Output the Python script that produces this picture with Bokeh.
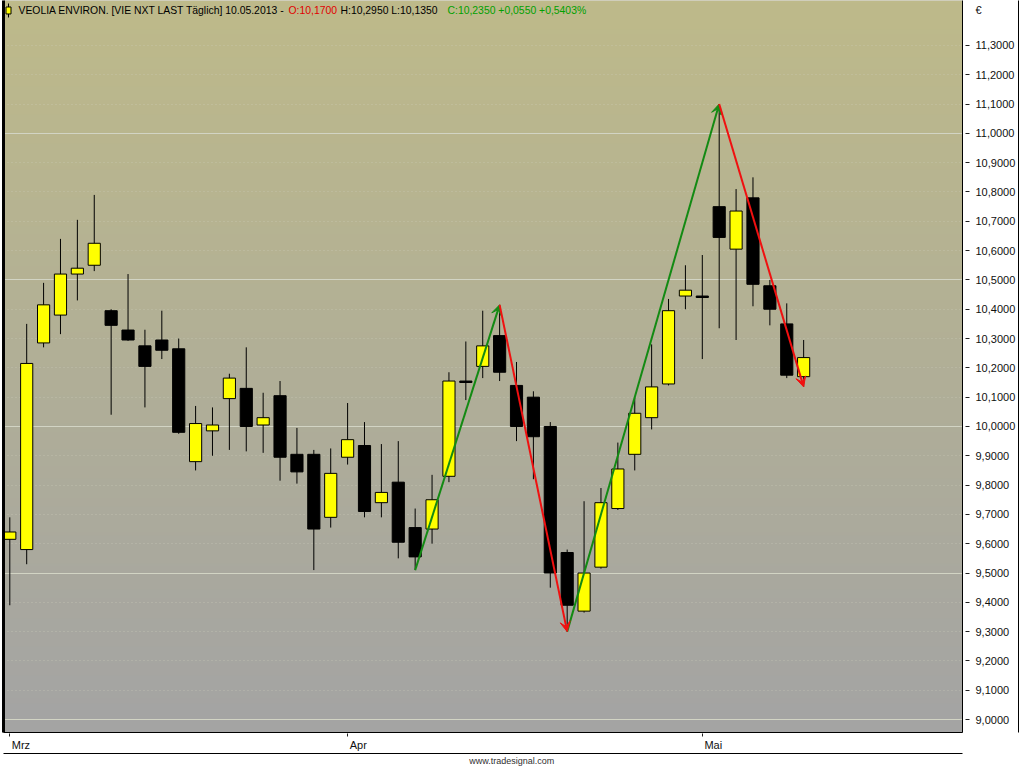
import numpy as np
from bokeh.plotting import figure
from bokeh.models import (ColumnDataSource, LinearAxis, FixedTicker, CustomJSTickFormatter,
                          Arrow, VeeHead, Label, Range1d, Grid)
from bokeh.embed import file_html
from bokeh.resources import INLINE

# ---------------- data ----------------
dates = ["01.03", "04.03", "05.03", "06.03", "07.03", "08.03", "11.03", "12.03", "13.03", "14.03",
         "15.03", "18.03", "19.03", "20.03", "21.03", "22.03", "25.03", "26.03", "27.03", "28.03",
         "02.04", "03.04", "04.04", "05.04", "08.04", "09.04", "10.04", "11.04", "12.04", "15.04",
         "16.04", "17.04", "18.04", "19.04", "22.04", "23.04", "24.04", "25.04", "26.04", "29.04",
         "30.04", "02.05", "03.05", "06.05", "07.05", "08.05", "09.05", "10.05"]
opens = [9.615, 9.58, 10.285, 10.38, 10.52, 10.55, 10.395, 10.329, 10.275, 10.295,
         10.265, 9.88, 9.985, 10.095, 10.13, 10.005, 10.105, 9.905, 9.905, 9.69,
         9.895, 9.935, 9.74, 9.81, 9.655, 9.65, 9.83, 10.155, 10.205, 10.31,
         10.14, 10.10, 10.00, 9.57, 9.37, 9.52, 9.72, 9.905, 10.03, 10.145,
         10.445, 10.445, 10.75, 10.605, 10.78, 10.48, 10.35, 10.17]
highs = [9.69, 10.35, 10.49, 10.64, 10.705, 10.79, 10.40, 10.52, 10.33, 10.395,
         10.30, 10.07, 10.065, 10.18, 10.27, 10.115, 10.155, 9.995, 9.92, 9.925,
         10.08, 10.015, 9.94, 9.95, 9.72, 9.835, 10.185, 10.29, 10.395, 10.415,
         10.22, 10.12, 10.015, 9.58, 9.745, 9.79, 9.945, 10.10, 10.28, 10.435,
         10.55, 10.585, 11.10, 10.81, 10.85, 10.50, 10.42, 10.295]
lows = [9.39, 9.53, 10.27, 10.315, 10.43, 10.53, 10.04, 10.292, 10.065, 10.23,
        9.975, 9.85, 9.90, 9.92, 9.915, 9.91, 9.815, 9.805, 9.51, 9.655,
        9.87, 9.69, 9.69, 9.55, 9.51, 9.60, 9.81, 10.09, 10.165, 10.155,
        9.95, 9.82, 9.45, 9.30, 9.365, 9.515, 9.715, 9.85, 9.99, 10.14,
        10.40, 10.23, 10.335, 10.295, 10.41, 10.345, 10.165, 10.135]
closes = [9.64, 10.215, 10.415, 10.52, 10.54, 10.625, 10.345, 10.295, 10.205, 10.26,
          9.98, 10.01, 10.005, 10.165, 10.00, 10.03, 9.895, 9.845, 9.65, 9.84,
          9.955, 9.71, 9.775, 9.605, 9.555, 9.75, 10.155, 10.15, 10.275, 10.185,
          10.00, 9.965, 9.50, 9.39, 9.50, 9.74, 9.855, 10.045, 10.135, 10.395,
          10.465, 10.44, 10.645, 10.735, 10.485, 10.40, 10.175, 10.235]

month_ticks = [0, 20, 41]
month_labels = ["Mrz", "Apr", "Mai"]

zz_idx = [24, 29, 33, 42, 47]
zz_price = [9.51, 10.415, 9.30, 11.10, 10.135]

y_ticks = [9.0, 9.1, 9.2, 9.3, 9.4, 9.5, 9.6, 9.7, 9.8, 9.9, 10.0, 10.1,
           10.2, 10.3, 10.4, 10.5, 10.6, 10.7, 10.8, 10.9, 11.0, 11.1, 11.2, 11.3]
y_major_grid = [9.0, 9.5, 10.0, 10.5, 11.0]

header_parts = ["VEOLIA ENVIRON. [VIE NXT LAST Täglich] 10.05.2013 -",
                "O:10,1700", "H:10,2950 L:10,1350", "C:10,2350 +0,0550 +0,5403%"]
header_colors = ["#000000", "#e00000", "#000000", "#00a000"]
header_px = [18, 288, 340, 447]

watermark = "www.tradesignal.com"

# ---------------- figure ----------------
X0, X1 = -0.373, 56.405
Y0, Y1 = 8.9559, 11.4533
FL, FR = 3, 962  # frame left/right in px

p = figure(width=1024, height=768, output_backend="svg", toolbar_location=None,
           x_axis_location=None, y_axis_location=None,
           x_range=Range1d(X0, X1), y_range=Range1d(Y0, Y1),
           min_border_left=FL, min_border_right=1024 - FR, min_border_top=0, min_border_bottom=35)
p.outline_line_color = None
p.border_fill_color = "white"
p.background_fill_color = "#b0ae9a"
for g in p.grid:
    g.visible = False

# background gradient
N = 256
top_c = np.array([190, 186, 138])
bot_c = np.array([164, 164, 164])
img = np.zeros((N, 1), dtype=np.uint32)
view = img.view(dtype=np.uint8).reshape((N, 1, 4))
for k in range(N):
    t = k / (N - 1)
    c = bot_c + (top_c - bot_c) * t
    view[k, 0, 0] = int(c[0]); view[k, 0, 1] = int(c[1]); view[k, 0, 2] = int(c[2]); view[k, 0, 3] = 255
bg = p.image_rgba(image=[img], x=X0, y=Y0, dw=X1 - X0, dh=Y1 - Y0)
bg.level = "image"

# grid
grid = Grid(dimension=1, ticker=FixedTicker(ticks=y_major_grid, minor_ticks=y_ticks),
            grid_line_color="#d2d4c4", grid_line_width=1,
            minor_grid_line_color="#cfcfc0", minor_grid_line_alpha=0.55,
            minor_grid_line_dash="1 3")
p.add_layout(grid)

# candles
idx = list(range(len(opens)))
tops = [max(o, c) for o, c in zip(opens, closes)]
bots = [min(o, c) for o, c in zip(opens, closes)]
cols = ["#ffff00" if c > o else "#000000" for o, c in zip(opens, closes)]
src = ColumnDataSource(dict(x=idx, high=highs, low=lows, top=tops, bottom=bots, color=cols))
p.segment(x0="x", y0="low", x1="x", y1="high", source=src, line_color="black", line_width=1)
p.vbar(x="x", width=0.72, top="top", bottom="bottom", source=src,
       fill_color="color", line_color="black", line_width=1)

# zigzag arrows
up = dict(x0=[], y0=[], x1=[], y1=[])
dn = dict(x0=[], y0=[], x1=[], y1=[])
for i in range(len(zz_idx) - 1):
    d = up if zz_price[i + 1] > zz_price[i] else dn
    d["x0"].append(zz_idx[i]); d["y0"].append(zz_price[i])
    d["x1"].append(zz_idx[i + 1]); d["y1"].append(zz_price[i + 1])
green = "#138a13"
red = "#f01010"
p.add_layout(Arrow(end=VeeHead(size=10, line_color=green, fill_color=green, line_width=1),
                   x_start="x0", y_start="y0", x_end="x1", y_end="y1",
                   source=ColumnDataSource(up), line_color=green, line_width=2))
p.add_layout(Arrow(end=VeeHead(size=10, line_color=red, fill_color=red, line_width=1),
                   x_start="x0", y_start="y0", x_end="x1", y_end="y1",
                   source=ColumnDataSource(dn), line_color=red, line_width=2))

# helpers: reference pixel -> data
def px_x(px):
    return X0 + (px - FL) / (FR - FL) * (X1 - X0)

def px_y(py):
    return 11.3 - (py - 45) / 293.5

# header icon (small candle) and header texts
p.segment(x0=[px_x(8)], y0=[px_y(3)], x1=[px_x(8)], y1=[px_y(17)], line_color="black", line_width=1)
p.quad(left=[px_x(5.5)], right=[px_x(10.5)], top=[px_y(6.5)], bottom=[px_y(13.5)],
       fill_color="#ffff00", line_color="black", line_width=1)
for txt, col, px in zip(header_parts, header_colors, header_px):
    p.add_layout(Label(x=px_x(px), y=px_y(10.5), text=txt, text_color=col,
                       text_font="Liberation Sans", text_font_size="10.4px",
                       text_align="left", text_baseline="middle"))

# left black edge
laxis = LinearAxis(ticker=FixedTicker(ticks=[]))
laxis.axis_line_color = "black"
laxis.axis_line_width = 3
laxis.major_tick_out = 0
laxis.major_tick_in = 0
laxis.minor_tick_out = 0
laxis.minor_tick_in = 0
laxis.major_label_standoff = 0
p.add_layout(laxis, "left")

# right axis
yfmt = CustomJSTickFormatter(code='return tick > 11.35 ? "\u20ac" : tick.toFixed(4).replace(".", ",");')
yaxis = LinearAxis(ticker=FixedTicker(ticks=y_ticks + [11.42], minor_ticks=y_ticks), formatter=yfmt)
yaxis.major_tick_out = 0
yaxis.major_tick_in = 0
yaxis.minor_tick_out = 7
yaxis.minor_tick_in = -3
yaxis.minor_tick_line_color = "#202020"
yaxis.axis_line_color = "black"
yaxis.major_label_standoff = 6
yaxis.major_label_text_font = "Liberation Sans"
yaxis.major_label_text_font_size = "11px"
yaxis.major_label_text_color = "#101010"
p.add_layout(yaxis, "right")

# outer right border line
raxis = LinearAxis(ticker=FixedTicker(ticks=[]))
raxis.axis_line_color = "black"
raxis.major_tick_out = 0
raxis.major_tick_in = 0
raxis.major_label_standoff = 0
p.add_layout(raxis, "right")

# bottom axis (month labels)
label_off = [0.66, 0.63, 0.65]
xfmt = CustomJSTickFormatter(args=dict(labels=month_labels), code="return labels[index];")
xaxis = LinearAxis(ticker=FixedTicker(ticks=[m + o for m, o in zip(month_ticks, label_off)],
                                      minor_ticks=month_ticks), formatter=xfmt)
xaxis.major_tick_out = 0
xaxis.major_tick_in = 0
xaxis.minor_tick_out = 4
xaxis.minor_tick_in = -1
xaxis.minor_tick_line_color = "#202020"
xaxis.axis_line_color = "black"
xaxis.major_label_standoff = 2
xaxis.major_label_text_font = "Liberation Sans"
xaxis.major_label_text_font_size = "11px"
xaxis.major_label_text_color = "#101010"
p.add_layout(xaxis, "below")

# outer bottom border line with the watermark beneath it
baxis = LinearAxis(ticker=FixedTicker(ticks=[]))
baxis.axis_line_color = "black"
baxis.major_tick_out = 0
baxis.major_tick_in = 0
baxis.major_label_standoff = 0
baxis.axis_label = "\u00a0" * 23 + watermark
baxis.axis_label_standoff = 2
baxis.axis_label_text_font = "Liberation Sans"
baxis.axis_label_text_font_size = "9px"
baxis.axis_label_text_font_style = "normal"
baxis.axis_label_text_color = "#303030"
p.add_layout(baxis, "below")

open("out.html", "w").write(file_html(p, INLINE))
